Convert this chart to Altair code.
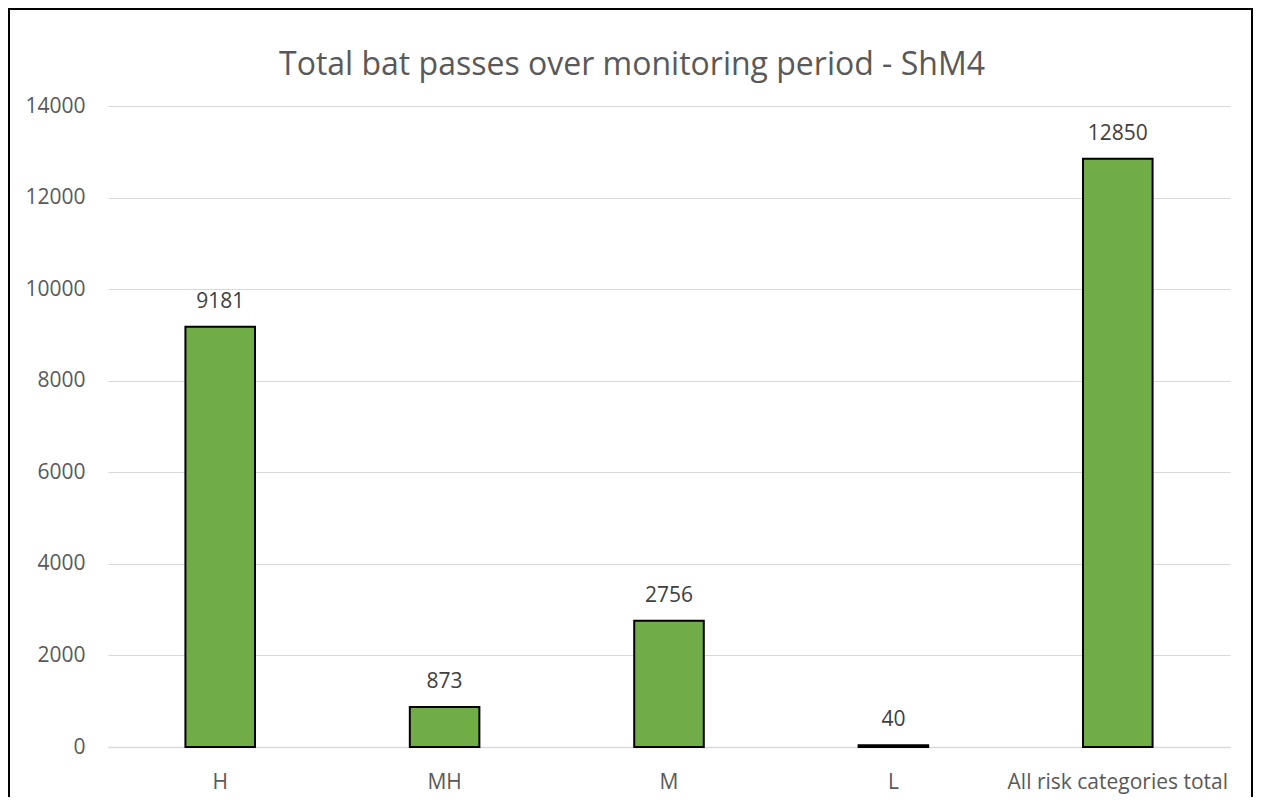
import altair as alt
import pandas as pd

categories = ["H", "MH", "M", "L", "All risk categories total"]
values = [9181, 873, 2756, 40, 12850]
y_ticks = [0, 2000, 4000, 6000, 8000, 10000, 12000, 14000]
title_text = "Total bat passes over monitoring period - ShM4"

df = pd.DataFrame({"cat": categories, "val": values})

FONT = "Open Sans"
W, H = 1122, 641

x_enc = alt.X("cat:N", sort=categories, title=None,
              scale=alt.Scale(paddingInner=0, paddingOuter=0),
              axis=alt.Axis(labelAngle=0, ticks=False, domain=True, domainColor="#d9d9d9",
                            domainWidth=1.5, labelFont=FONT, labelFontSize=21,
                            labelColor="#595959", labelPadding=24, labelLimit=0))
y_enc = alt.Y("val:Q", title=None,
              scale=alt.Scale(domain=[0, 14000], nice=False),
              axis=alt.Axis(values=y_ticks, format="d", ticks=False, domain=False, grid=True,
                            gridColor="#d9d9d9", gridWidth=1.2, labelFont=FONT,
                            labelFontSize=21, labelColor="#595959", labelPadding=23))

bars = alt.Chart(df).mark_bar(
    color="#70AD47", stroke="black", strokeWidth=2,
    width=alt.RelativeBandSize(0.31)
).encode(x=x_enc, y=y_enc)

labels = alt.Chart(df).mark_text(
    font=FONT, fontSize=21, color="#404040", baseline="alphabetic", dy=-19
).encode(x=alt.X("cat:N", sort=categories), y="val:Q", text="val:Q")

title = alt.Chart(pd.DataFrame({"t": [title_text]})).mark_text(
    font=FONT, fontSize=32, color="#595959", baseline="alphabetic", align="center"
).encode(x=alt.value(524), y=alt.value(-31), text="t:N")

border = alt.Chart(pd.DataFrame({"b": [0]})).mark_rect(
    fill=None, stroke="black", strokeWidth=2
).encode(x=alt.value(-99), x2=alt.value(1144), y=alt.value(-97), y2=alt.value(720))

chart = alt.layer(bars, labels, title, border).properties(
    width=W, height=H,
    padding={"left": 100, "top": 98, "right": 23, "bottom": 50},
    autosize=alt.AutoSizeParams(type="none"),
).configure_view(stroke=None)

chart.save("out.html", embed_options={"renderer": "svg", "actions": False})
